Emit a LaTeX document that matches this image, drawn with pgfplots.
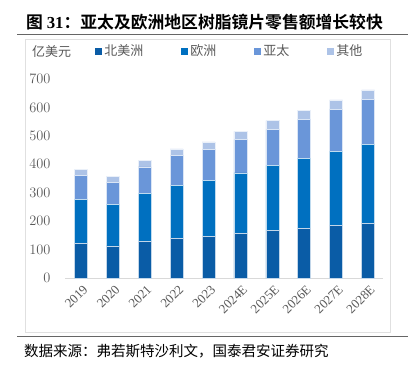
\documentclass[border=0pt]{standalone}
\usepackage{fontspec}
\setmainfont{Liberation Serif}
\newfontfamily\cjk{Noto Sans CJK SC}[BoldFont={Noto Sans CJK SC Bold}]
\usepackage{pgfplots}
\pgfplotsset{compat=1.18}
\definecolor{cNA}{HTML}{0A5CA6}
\definecolor{cEU}{HTML}{0070C0}
\definecolor{cAP}{HTML}{6A96D9}
\definecolor{cOT}{HTML}{ADC3E7}
\definecolor{tgray}{HTML}{595959}
\begin{document}
\begin{tikzpicture}
\path[use as bounding box] (0pt,0pt) rectangle (417pt,-366pt);
\node[anchor=west,inner sep=0pt,font=\fontsize{16.8}{18}\selectfont] at (26pt,-22pt) {{\cjk\bfseries 图 }{\bfseries 31}{\cjk\bfseries ：亚太及欧洲地区树脂镜片零售额增长较快}};
\draw[black!60,line width=0.8pt] (17pt,-34pt) -- (408pt,-34pt);
\draw[black!12,line width=0.8pt] (25pt,-39pt) rectangle (390pt,-332pt);
\draw[black!60,line width=0.8pt] (17pt,-336pt) -- (408pt,-336pt);
\node[anchor=west,inner sep=0pt,font=\cjk\fontsize{14.5}{16}\selectfont] at (24pt,-351pt) {数据来源：弗若斯特沙利文，国泰君安证券研究};
\node[anchor=west,inner sep=0pt,text=tgray,font=\cjk\fontsize{13}{15}\selectfont] at (32pt,-52pt) {亿美元};
\begin{axis}[
  at={(65pt,-278pt)}, anchor=south west,
  scale only axis, width=318pt, height=199pt,
  ybar stacked, bar width=13pt,
  xmin=-0.5, xmax=9.47, ymin=0, ymax=700,
  axis x line*=bottom, axis y line*=left,
  x axis line style={draw=black!15, line width=0.8pt, -},
  y axis line style={draw=none},
  major tick length=0pt,
  ytick={0,100,...,700},
  xtick={0,...,9},
  xticklabels={2019,2020,2021,2022,2023,2024E,2025E,2026E,2027E,2028E},
  yticklabel style={font=\fontsize{14}{16}\selectfont, text=tgray, xshift=-11pt},
  xticklabel style={font=\fontsize{13}{14}\selectfont, text=tgray, rotate=45, anchor=east, yshift=-10pt, xshift=0pt},
  legend columns=4,
  legend style={at={(0.095,1.14)}, anchor=west, draw=none, fill=none, inner sep=0pt,
    font=\cjk\fontsize{13}{15}\selectfont, text=tgray,
    /tikz/every even column/.append style={column sep=36pt}},
  legend image code/.code={\fill[#1,draw=none] (0pt,-3.5pt) rectangle (7pt,3.5pt);},
]
\addplot[fill=cNA, draw=white!75!cNA, line width=0.5pt] coordinates {(0,121) (1,113) (2,129) (3,140) (4,147) (5,157) (6,167) (7,175) (8,185) (9,193)};
\addplot[fill=cEU, draw=white!75!cEU, line width=0.5pt] coordinates {(0,155) (1,145) (2,168) (3,187) (4,196) (5,213) (6,229) (7,245) (8,260) (9,276)};
\addplot[fill=cAP, draw=white!75!cAP, line width=0.5pt] coordinates {(0,84) (1,79) (2,94) (3,104) (4,109) (5,117) (6,126) (7,137) (8,148) (9,159)};
\addplot[fill=cOT, draw=white!75!cOT, line width=0.5pt] coordinates {(0,23) (1,21) (2,23) (3,23) (4,27) (5,29) (6,32) (7,32) (8,34) (9,34)};
\legend{北美洲,欧洲,亚太,其他}
\end{axis}
\end{tikzpicture}
\end{document}
